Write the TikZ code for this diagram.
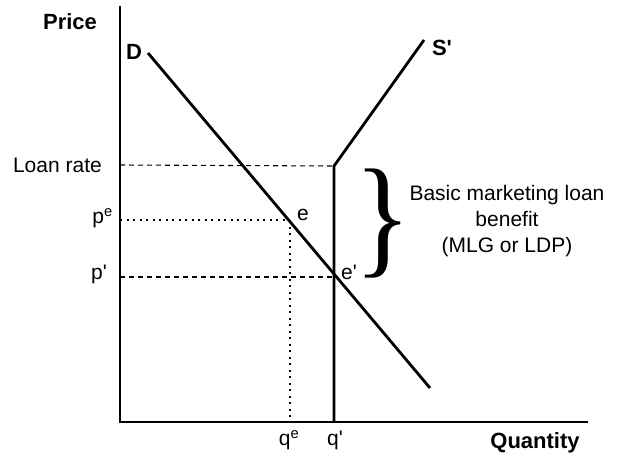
\documentclass[tikz,border=0pt]{standalone}
\usepackage{fontspec}
\setmainfont{Liberation Sans}
\newfontfamily\braceserif{Liberation Serif}
\begin{document}
\begin{tikzpicture}[x=1pt,y=-1pt,
  curve/.style={line width=2.8pt},
  axisline/.style={line width=2.2pt},
  guide/.style={line width=1.1pt,dash pattern=on 5pt off 4pt},
  dotguide/.style={line width=2.2pt,dash pattern=on 2.2pt off 4.3pt},
  lbl/.style={font=\fontsize{21}{25}\selectfont,inner sep=0pt},
  blbl/.style={font=\fontsize{22}{26}\selectfont\bfseries,inner sep=0pt}]
\useasboundingbox (0,0) rectangle (618,466);
% coordinates
\coordinate (top) at (120,6);
\coordinate (O) at (120,422);
\coordinate (xend) at (588,422);
\coordinate (D1) at (148,53);
\coordinate (D2) at (430,388);
\coordinate (S0) at (334,422);
\coordinate (Sk) at (334,166);
\coordinate (S2) at (424,40);
\coordinate (E) at (290,220);
\coordinate (Ep) at (334,277);
\coordinate (Lr) at (120,165);
\coordinate (Pe) at (120,220);
\coordinate (Pp) at (120,277);
\coordinate (Qe) at (290,422);
% guides
\draw[guide] (Lr) -- (Sk);
\draw[guide] (Pp) -- (Ep);
\draw[dotguide] (Pe) -- (E);
\draw[dotguide] (E) -- (Qe);
% axes
\draw[axisline] (top) -- (O) -- (xend);
% curves
\draw[curve] (D1) -- (D2);
\draw[curve] (S0) -- (Sk) -- (S2);
% labels
\node[blbl] (price) at (70,22) {Price};
\node[blbl] (qty) at (535,443) {Quantity};
\node[blbl] (dl) at (134,52) {D};
\node[blbl] (sl) at (442,48) {S\textquotesingle};
\node[lbl,anchor=east] (lrl) at (102,165) {Loan rate};
\node[lbl,anchor=east] (pel) at (113,218) {p\textsuperscript{e}};
\node[lbl,anchor=east] (ppl) at (107,274) {p\textquotesingle};
\node[lbl] (el) at (303,215) {e};
\node[lbl] (epl) at (349,272) {e\textquotesingle};
\node[lbl] (qel) at (289,440) {q\textsuperscript{e}};
\node[lbl] (qpl) at (335,440) {q\textquotesingle};
\node[inner sep=0pt,xscale=0.9,font=\braceserif\fontsize{132}{132}\selectfont] (br) at (383,224) {\}};
\node[lbl,align=center] (txt) at (507,221) {Basic marketing loan\\[1pt]benefit\\[1pt](MLG or LDP)};
\end{tikzpicture}
\end{document}
